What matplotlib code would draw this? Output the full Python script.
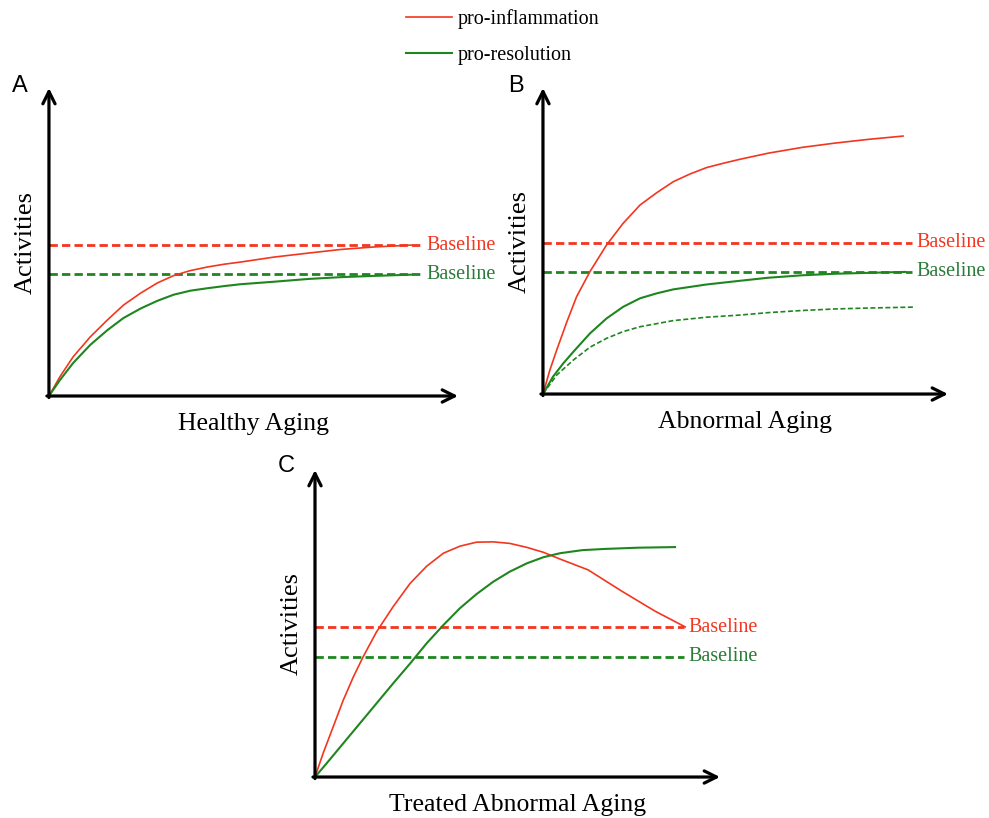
import matplotlib
matplotlib.use("Agg")
import matplotlib.pyplot as plt

plt.rcParams['font.family'] = 'Liberation Serif'

RED = '#f2361f'
GREEN = '#1f861f'

# panel A: healthy aging
a_x_red = [0, 2.7, 5.9, 10.1, 14.3, 18.2, 22.4, 26.5, 30.5, 34.5, 38.8, 42.9, 46.9, 55.0, 63.4, 71.5, 79.6, 88.7]
a_y_red = [0, 6.3, 12.7, 19.2, 24.7, 29.5, 33.4, 36.7, 39.1, 40.7, 41.9, 42.8, 43.5, 45.1, 46.4, 47.6, 48.4, 49.0]
a_x_green = [0, 2.7, 5.9, 10.1, 14.3, 18.2, 22.4, 26.5, 30.5, 34.6, 38.8, 42.9, 46.9, 55.0, 63.4, 71.5, 79.6, 88.7]
a_y_green = [0, 5.2, 10.7, 16.6, 21.4, 25.3, 28.4, 30.9, 32.9, 34.2, 35.0, 35.7, 36.3, 37.1, 38.0, 38.6, 39.0, 39.4]
a_base_red = 49.0
a_base_green = 39.5

# panel B: abnormal aging
b_x_red = [0, 1.7, 3.4, 5.9, 8.3, 11.6, 15.7, 19.8, 24.0, 28.1, 32.2, 36.3, 40.4, 44.5, 48.6,
           55.6, 64.0, 72.1, 80.2, 88.9]
b_y_red = [0, 7.8, 14.4, 23.6, 31.8, 40.0, 48.7, 55.8, 61.8, 65.8, 69.4, 71.9, 74.0, 75.4, 76.7,
           78.7, 80.6, 82.0, 83.2, 84.3]
b_x_green = [0, 2.5, 5.0, 7.5, 11.6, 15.7, 19.8, 24.0, 28.1, 32.2, 40.4, 48.6, 55.6, 64.0, 72.1, 80.2, 89.4]
b_y_green = [0, 5.7, 10.0, 13.8, 19.8, 24.7, 28.5, 31.3, 32.9, 34.2, 35.8, 37.0, 38.0, 38.8, 39.3, 39.6, 39.9]
b_x_green_low = [0, 3.4, 7.5, 11.6, 15.7, 19.8, 24.0, 32.2, 40.4, 48.6, 55.6, 64.0, 72.1, 80.2, 91.4]
b_y_green_low = [0, 6.2, 11.1, 15.3, 18.2, 20.4, 22.0, 24.0, 25.1, 25.8, 26.6, 27.3, 27.8, 28.1, 28.4]
b_base_red = 49.4
b_base_green = 39.9

# panel C: treated abnormal aging
c_x_red = [0, 2.0, 4.5, 7.0, 9.5, 11.9, 15.2, 19.3, 23.5, 27.6, 31.7, 35.8, 39.9, 44.0, 48.1, 52.3,
           56.4, 60.5, 67.4, 75.8, 84.0, 91.4]
c_y_red = [0, 7.7, 16.4, 25.1, 32.7, 39.2, 47.3, 55.5, 63.1, 68.7, 72.9, 75.2, 76.5, 76.6, 76.1, 74.8,
           73.2, 71.0, 67.5, 60.5, 54.0, 48.9]
c_x_green = [0, 2.9, 7.0, 11.1, 15.2, 19.3, 23.5, 27.6, 31.7, 35.8, 39.9, 44.0, 48.1, 52.3, 56.4, 60.5,
             66.0, 71.6, 79.8, 88.9]
c_y_green = [0, 4.5, 11.0, 17.5, 24.0, 30.5, 37.0, 43.6, 49.5, 55.0, 59.6, 63.6, 66.9, 69.6, 71.6, 72.9,
             73.9, 74.3, 74.7, 74.9]
c_base_red = 48.8
c_base_green = 39.2

base_end = 91.0


def setup(ax, xlabel):
    ax.set_xlim(0, 100)
    ax.set_ylim(0, 100)
    ax.set_xticks([])
    ax.set_yticks([])
    for s in ax.spines.values():
        s.set_visible(False)
    arrow = dict(arrowstyle='->', lw=2.3, color='black', mutation_scale=22, shrinkA=0, shrinkB=0)
    ax.annotate('', xy=(0, 1), xytext=(0, -0.005), xycoords='axes fraction', arrowprops=arrow, annotation_clip=False)
    ax.annotate('', xy=(1, 0), xytext=(-0.005, 0), xycoords='axes fraction', arrowprops=arrow, annotation_clip=False)
    ax.set_xlabel(xlabel, fontsize=18.5, labelpad=12)
    ax.set_ylabel('Activities', fontsize=19, labelpad=8.5)


def baselines(ax, y_red, y_green):
    ax.plot([0, base_end], [y_red, y_red], color=RED, lw=2, dashes=(3, 1.5))
    ax.plot([0, base_end], [y_green, y_green], color=GREEN, lw=2, dashes=(3, 1.5))
    ax.text(base_end + 1.3, y_red, 'Baseline', color=RED, fontsize=14.5, va='center')
    ax.text(base_end + 1.3, y_green, 'Baseline', color='#2a7a3a', fontsize=14.5, va='center')


fig = plt.figure(figsize=(9.89, 8.18), dpi=100)
ax_a = fig.add_axes([0.0495, 0.5159, 0.4136, 0.3765])
ax_b = fig.add_axes([0.5490, 0.5183, 0.4095, 0.3741])
ax_c = fig.add_axes([0.3185, 0.0501, 0.4095, 0.3753])

setup(ax_a, 'Healthy Aging')
baselines(ax_a, a_base_red, a_base_green)
l_red, = ax_a.plot(a_x_red, a_y_red, color=RED, lw=1.2, label='pro-inflammation')
l_green, = ax_a.plot(a_x_green, a_y_green, color=GREEN, lw=1.5, label='pro-resolution')

setup(ax_b, 'Abnormal Aging')
baselines(ax_b, b_base_red, b_base_green)
ax_b.plot(b_x_red, b_y_red, color=RED, lw=1.2)
ax_b.plot(b_x_green, b_y_green, color=GREEN, lw=1.5)
ax_b.plot(b_x_green_low, b_y_green_low, color=GREEN, lw=1.2, dashes=(3, 1.5))

setup(ax_c, 'Treated Abnormal Aging')
baselines(ax_c, c_base_red, c_base_green)
ax_c.plot(c_x_red, c_y_red, color=RED, lw=1.2)
ax_c.plot(c_x_green, c_y_green, color=GREEN, lw=1.5)

fig.text(20 / 989, 1 - 86 / 818, 'A', fontsize=17, family='Liberation Sans', ha='center', va='center')
fig.text(516 / 989, 1 - 86 / 818, 'B', fontsize=17, family='Liberation Sans', ha='center', va='center')
fig.text(286 / 989, 1 - 466 / 818, 'C', fontsize=17, family='Liberation Sans', ha='center', va='center')

fig.legend(handles=[l_red, l_green], loc='upper left', bbox_to_anchor=(406 / 989, 1 - 9 / 818),
           frameon=False, fontsize=14.5, handlelength=2.3, handletextpad=0.25,
           labelspacing=0.85, borderpad=0, borderaxespad=0)

plt.savefig('out.png', dpi=100)
